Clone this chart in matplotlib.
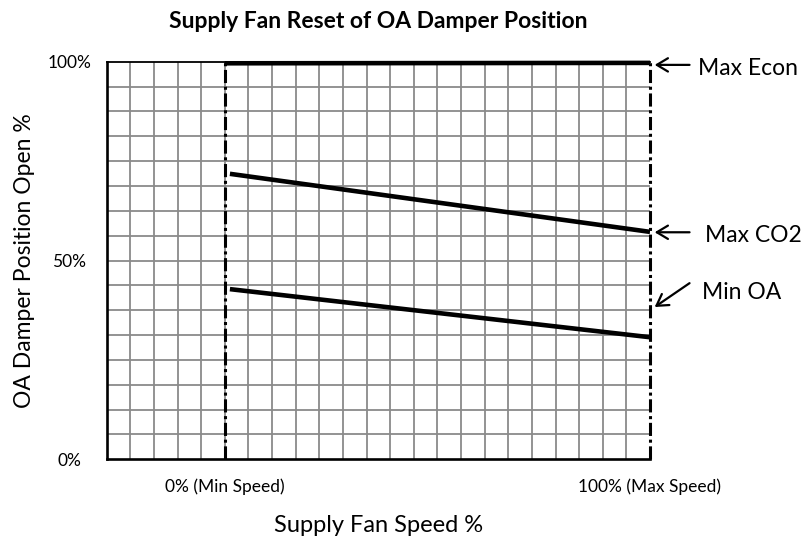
import matplotlib
matplotlib.use("Agg")
import matplotlib.pyplot as plt
import numpy as np

plt.rcParams['font.family'] = ['Lato', 'DejaVu Sans']

# fan speed (% between min and max speed) and damper positions (% open)
fan_speed = [0, 100]
co2_speed = [1.2, 100]
max_econ = [99.6, 99.7]
max_co2 = [71.8, 57.2]
min_oa = [42.8, 30.7]

x_tick_pos = [0, 100]
x_tick_labels = ['0% (Min Speed)', '100% (Max Speed)']
y_tick_pos = [0, 50, 100]
y_tick_labels = ['0%', '50%', '100%']

cell = 100 / 18.0  # grid spacing on the speed axis

fig = plt.figure(figsize=(8.11, 5.41), dpi=100)
ax = fig.add_axes([106.7 / 811, (541 - 459.3) / 541, 543.3 / 811, 397.6 / 541])

ax.set_xlim(-5 * cell, 100)
ax.set_ylim(0, 100)

# graph paper grid
for i in range(1, 23):
    ax.axvline(-5 * cell + i * cell, color='#8a8a8a', lw=1.3, zorder=1)
for j in range(1, 16):
    ax.axhline(j * 6.25, color='#8a8a8a', lw=1.3, zorder=1)

# min / max speed limits
for xv in x_tick_pos:
    ax.axvline(xv, color='black', lw=2.2, linestyle=(0, (4.3, 1.2, 1, 1.2)),
               zorder=3, clip_on=False)

ax.plot(fan_speed, max_econ, color='black', lw=3.3, solid_capstyle='butt',
        zorder=4, clip_on=False)
ax.plot(co2_speed, max_co2, color='black', lw=3.3, solid_capstyle='butt', zorder=4)
ax.plot(co2_speed, min_oa, color='black', lw=3.3, solid_capstyle='butt', zorder=4)

for side in ['left', 'bottom']:
    ax.spines[side].set_linewidth(1.9)
ax.spines['top'].set_linewidth(1.3)
ax.spines['right'].set_visible(False)

ax.set_xticks(x_tick_pos)
ax.set_xticklabels(x_tick_labels, fontsize=12.5)
ax.set_yticks(y_tick_pos)
ax.set_yticklabels(y_tick_labels, fontsize=12.5, ha='center')
ax.tick_params(axis='x', length=0, pad=14)
ax.tick_params(axis='y', length=0, pad=27)

ax.set_xlabel('Supply Fan Speed %', fontsize=17, labelpad=14)
ax.set_ylabel('OA Damper Position Open %', fontsize=16.5, labelpad=9)
ax.set_title('Supply Fan Reset of OA Damper Position', fontsize=16.5,
             fontweight='bold', pad=24)

arrow = dict(arrowstyle='->,head_length=0.5,head_width=0.3', lw=1.6,
             color='black', mutation_scale=16, shrinkA=0, shrinkB=0)
ax.annotate('', xy=(101.1, 99.2), xytext=(109.3, 99.2), arrowprops=arrow,
            annotation_clip=False)
ax.annotate('', xy=(101.1, 57.1), xytext=(109.3, 57.1), arrowprops=arrow,
            annotation_clip=False)
ax.annotate('', xy=(101.1, 38.3), xytext=(109.3, 44.3), arrowprops=arrow,
            annotation_clip=False)
ax.text(111.2, 98.2, 'Max Econ', fontsize=16.5, va='center', ha='left', clip_on=False)
ax.text(112.9, 56.4, 'Max CO2', fontsize=16.5, va='center', ha='left', clip_on=False)
ax.text(112.2, 41.9, 'Min OA', fontsize=16.5, va='center', ha='left', clip_on=False)

fig.savefig('out.png', dpi=100)
